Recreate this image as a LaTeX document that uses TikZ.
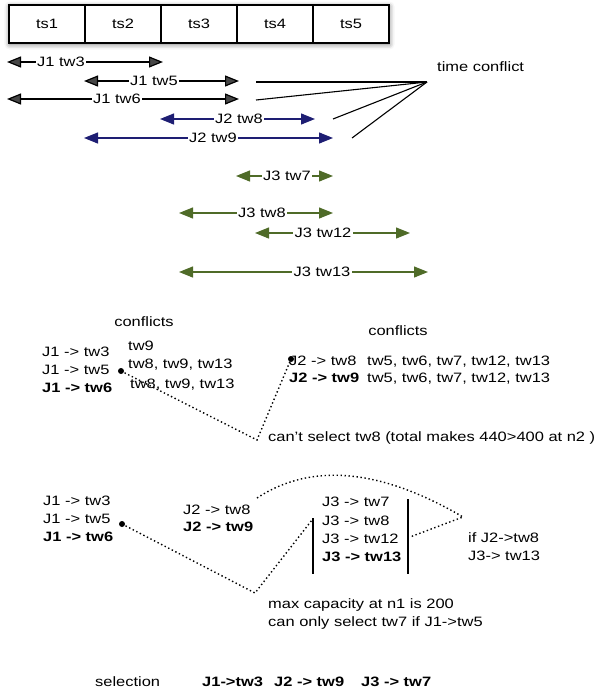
\documentclass[tikz,border=0pt]{standalone}
\usepackage{fontspec}
\setmainfont{Liberation Sans}[FakeStretch=1.21]
\usetikzlibrary{arrows.meta,shadows.blur}
\definecolor{jtwo}{RGB}{30,30,115}
\definecolor{jthree}{RGB}{79,107,40}
\begin{document}
\begin{tikzpicture}[x=1pt,y=-1pt,
  fnt/.style={font=\fontsize{13.6}{16}\selectfont},
  txt/.style={fnt, inner sep=0pt, anchor=base west},
  btxt/.style={txt, font=\fontsize{13.6}{16}\selectfont\bfseries},
  ctxt/.style={fnt, inner sep=0pt, anchor=base},
  lbl/.style={fnt, fill=white, inner xsep=1.5pt, inner ysep=0pt, text height=9.8pt, text depth=0pt},
  tsbox/.style={draw, line width=1.2pt, fill=white, minimum width=76pt, minimum height=38pt, inner sep=0pt, fnt},
  iv/.style={line width=1.2pt, {Triangle[length=14pt,width=11pt]}-{Triangle[length=14pt,width=11pt]}},
  tline/.style={line width=1.1pt},
  dotline/.style={line width=1.4pt, dash pattern=on 1.4pt off 2.6pt},
  bar/.style={line width=1.4pt},
  dotn/.style={circle, fill, inner sep=0pt, minimum size=6pt}]
\useasboundingbox (0,0) rectangle (598,696);
% time slot boxes
\fill[white, blur shadow={shadow xshift=0.5pt, shadow yshift=-1.5pt, shadow blur radius=5pt, shadow opacity=55}] (9,5) rectangle (389,43);
\node[tsbox] (ts1) at (47,24) {ts1};
\node[tsbox] (ts2) at (123,24) {ts2};
\node[tsbox] (ts3) at (199,24) {ts3};
\node[tsbox] (ts4) at (275,24) {ts4};
\node[tsbox] (ts5) at (351,24) {ts5};
% intervals J1
\draw[iv] (7,62) -- (163,62);   \node[lbl] (j1a) at (61,62) {J1 tw3};
\draw[iv] (84,81) -- (239,81);  \node[lbl] (j1b) at (154,81) {J1 tw5};
\draw[iv] (7,99) -- (239,99);   \node[lbl] (j1c) at (117,99) {J1 tw6};
% intervals J2
\draw[iv, jtwo] (160,119) -- (315,119); \node[lbl] (j2a) at (239,119) {J2 tw8};
\draw[iv, jtwo] (84,138) -- (333,138);  \node[lbl] (j2b) at (213,138) {J2 tw9};
% intervals J3
\draw[iv, jthree] (236,176) -- (333,176); \node[lbl] (j3a) at (287,176) {J3 tw7};
\draw[iv, jthree] (179,213) -- (333,213); \node[lbl] (j3b) at (262,213) {J3 tw8};
\draw[iv, jthree] (255,233) -- (410,233); \node[lbl] (j3c) at (323,233) {J3 tw12};
\draw[iv, jthree] (179,272) -- (428,272); \node[lbl] (j3d) at (322,272) {J3 tw13};
% time conflict
\coordinate (tc) at (427,82);
\coordinate (c1) at (256,82);
\coordinate (c2) at (256,100);
\coordinate (c3) at (333,119);
\coordinate (c4) at (352,138);
\draw[tline] (c1) -- (tc);
\draw[tline] (c2) -- (tc);
\draw[tline] (c3) -- (tc);
\draw[tline] (c4) -- (tc);
\node[txt] (tct) at (437,71) {time conflict};
% section 2
\node[ctxt] (cf1) at (144,326) {conflicts};
\node[txt] (s1a) at (42,356) {J1 -> tw3};
\node[txt] (s1b) at (42,374) {J1 -> tw5};
\node[btxt] (s1c) at (42,392.7) {J1 -> tw6};
\node[txt] (k1a) at (128,350.7) {tw9};
\node[txt] (k1b) at (128,368.3) {tw8, tw9, tw13};
\node[txt] (k1c) at (130,388) {tw8, tw9, tw13};
\node[dotn] (d1) at (121,371) {};
\node[ctxt] (cf2) at (398,335.7) {conflicts};
\node[txt] (s2a) at (289,365) {J2 -> tw8};
\node[btxt] (s2b) at (289,382.7) {J2 -> tw9};
\node[txt] (k2a) at (367,365) {tw5, tw6, tw7, tw12, tw13};
\node[txt] (k2b) at (367,382.7) {tw5, tw6, tw7, tw12, tw13};
\node[dotn] (d2) at (291,359) {};
\node[txt] (n1) at (268,441) {can't select tw8 (total makes 440>400 at n2 )};
\coordinate (v1) at (257,440);
\draw[dotline] (d1.center) -- (v1) -- (d2.center);
% section 3
\node[txt] (s3a) at (43,505) {J1 -> tw3};
\node[txt] (s3b) at (43,523.3) {J1 -> tw5};
\node[btxt] (s3c) at (43,541.7) {J1 -> tw6};
\node[dotn] (d3) at (122,524) {};
\node[txt] (s4a) at (183,514.3) {J2 -> tw8};
\node[btxt] (s4b) at (183,531.7) {J2 -> tw9};
\node[txt] (s5a) at (322,506.7) {J3 -> tw7};
\node[txt] (s5b) at (322,525) {J3 -> tw8};
\node[txt] (s5c) at (322,543.3) {J3 -> tw12};
\node[btxt] (s5d) at (322,561.7) {J3 -> tw13};
\coordinate (blt) at (313,518);
\coordinate (blb) at (313,574);
\coordinate (brt) at (408,499);
\coordinate (brb) at (408,574);
\draw[bar] (blt) -- (blb);
\draw[bar] (brt) -- (brb);
\coordinate (brm) at (410,537);
\node[txt] (ifa) at (468,542) {if J2->tw8};
\node[txt] (ifb) at (468,560) {J3-> tw13};
\node[txt] (mc1) at (268,608) {max capacity at n1 is 200};
\node[txt] (mc2) at (268,626.7) {can only select tw7 if J1->tw5};
\coordinate (v2) at (255,593);
\coordinate (ble) at (312,520);
\draw[dotline] (d3.center) -- (v2) -- (ble);
\coordinate (a0) at (257,498);
\coordinate (a1) at (463,517);
\draw[dotline] (a0) .. controls (312,462) and (381,469) .. (a1) -- (brm);
% selection
\node[txt] (sel) at (95,686.7) {selection};
\node[btxt] (sel1) at (202,686.7) {J1->tw3};
\node[btxt] (sel2) at (274,686.7) {J2 -> tw9};
\node[btxt] (sel3) at (361,686.7) {J3 -> tw7};
\end{tikzpicture}
\end{document}
